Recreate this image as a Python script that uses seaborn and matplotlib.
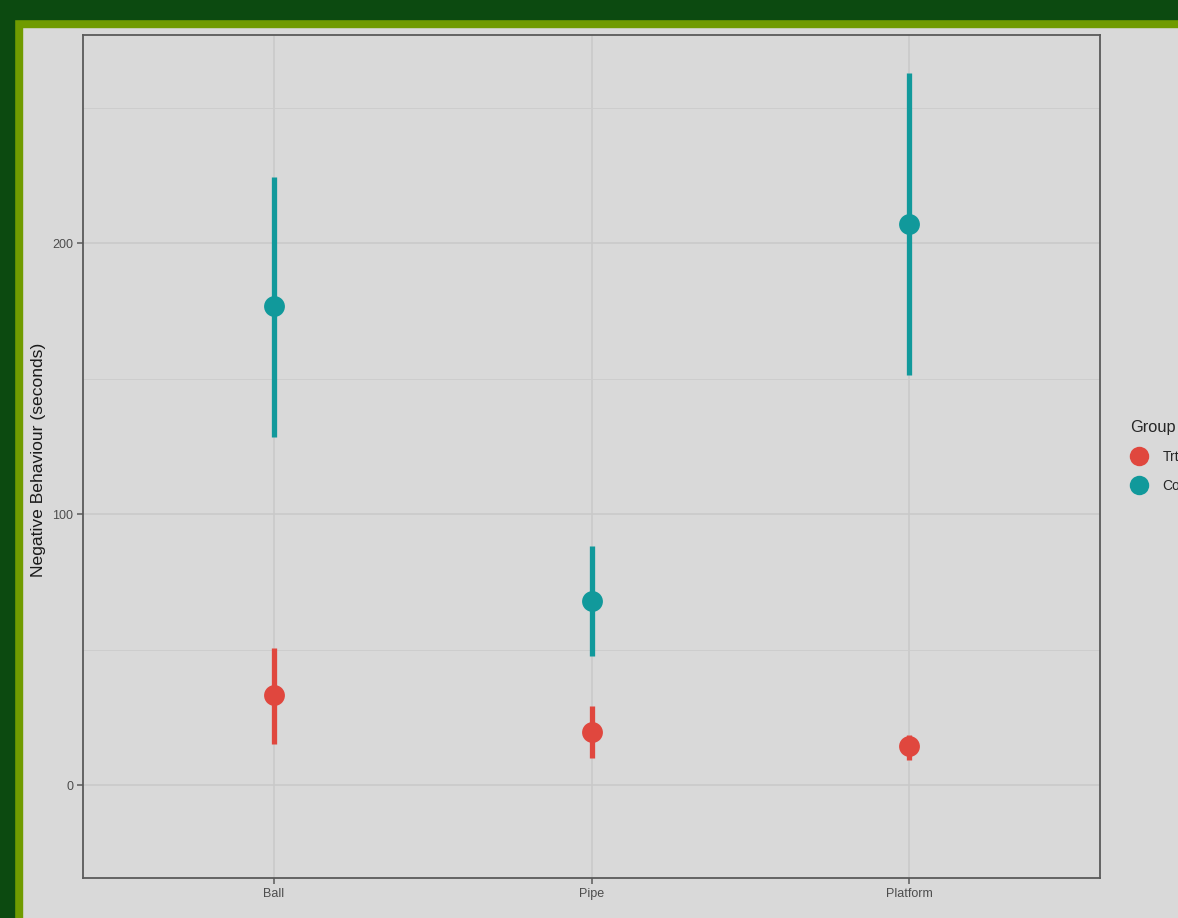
import matplotlib
matplotlib.use("Agg")
import matplotlib.pyplot as plt
from matplotlib.patches import Rectangle
import seaborn as sns
import pandas as pd

# Mean negative behaviour per apparatus, with interval bounds
apparatus = ["Ball", "Pipe", "Platform"]
groups = ["Trt", "Control"]
trt_mean = [33.2, 19.6, 14.4]
trt_low = [15.1, 10.0, 9.2]
trt_high = [50.6, 29.2, 18.5]
ctl_mean = [176.8, 67.9, 207.0]
ctl_low = [128.4, 47.6, 151.3]
ctl_high = [224.4, 88.2, 262.7]

rows = []
for g, lo, mid, hi in [("Trt", trt_low, trt_mean, trt_high),
                       ("Control", ctl_low, ctl_mean, ctl_high)]:
    for i, a in enumerate(apparatus):
        for v in (lo[i], mid[i], hi[i]):
            rows.append({"Apparatus": a, "Group": g, "Value": v})
df = pd.DataFrame(rows)

bg = "#d9d9d9"
sns.set_theme(style="darkgrid")
plt.rcParams["font.family"] = ["Liberation Sans", "DejaVu Sans"]

fig = plt.figure(figsize=(11.78, 9.18), dpi=100, facecolor=bg)
ax = fig.add_axes([83 / 1178, 40 / 918, (1100 - 83) / 1178, (878 - 35) / 918])
ax.set_facecolor(bg)

palette = {"Trt": "#e0473e", "Control": "#11999b"}
sns.pointplot(
    data=df, x="Apparatus", y="Value", hue="Group", hue_order=groups,
    order=apparatus, palette=palette, estimator="median",
    errorbar=lambda v: (v.min(), v.max()), linestyle="none",
    markersize=15, markeredgewidth=0,
    err_kws={"linewidth": 3.8, "solid_capstyle": "butt"},
    dodge=False, ax=ax,
)

ax.set_xlim(-0.6, 2.6)
ax.set_ylim(-34.3, 276.8)
ax.set_yticks([0, 100, 200])
ax.set_yticks([50, 150, 250], minor=True)
ax.grid(True, which="major", color="#c9c9c9", linewidth=1.1)
ax.grid(True, which="minor", color="#cdcdcd", linewidth=0.7)
ax.set_axisbelow(True)
for s in ax.spines.values():
    s.set_visible(True)
    s.set_color("#5a5a5a")
    s.set_linewidth(1.3)
ax.tick_params(axis="both", which="major", length=4, width=1.1, color="#5a5a5a",
               labelsize=9, labelcolor="#4d4d4d", pad=3, bottom=True, left=True)
ax.tick_params(axis="both", which="minor", length=0)
ax.set_xlabel("")
ax.set_ylabel("Negative Behaviour (seconds)", fontsize=12.6, color="#1a1a1a")
ax.yaxis.set_label_coords(46 / 1178, (918 - 460) / 918, transform=fig.transFigure)

handles, labels = ax.get_legend_handles_labels()
ax.get_legend().remove()
leg = ax.legend(handles, labels, title="Group", frameon=False, loc="upper left",
                bbox_to_anchor=(1125 / 1178, (918 - 414) / 918),
                bbox_transform=fig.transFigure, borderaxespad=0,
                fontsize=10, title_fontsize=11.8, handletextpad=1.1,
                labelspacing=1.1, handlelength=1.2)
leg._legend_box.align = "left"
for h in leg.legend_handles:
    h.set_markersize(14)
    h.set_linewidth(0)

# Frame around the figure
fig.patches.append(Rectangle((0, 1 - 19 / 918), 1, 19 / 918, transform=fig.transFigure,
                             color="#0c4a10", zorder=10))
fig.patches.append(Rectangle((0, 0), 14 / 1178, 1, transform=fig.transFigure,
                             color="#0c4a10", zorder=10))
fig.patches.append(Rectangle((14 / 1178, 1 - 27 / 918), 1, 8 / 918, transform=fig.transFigure,
                             color="#709b00", zorder=9))
fig.patches.append(Rectangle((14 / 1178, 0), 8 / 1178, 1 - 19 / 918, transform=fig.transFigure,
                             color="#709b00", zorder=9))

fig.savefig("out.png", dpi=100, facecolor=bg)
